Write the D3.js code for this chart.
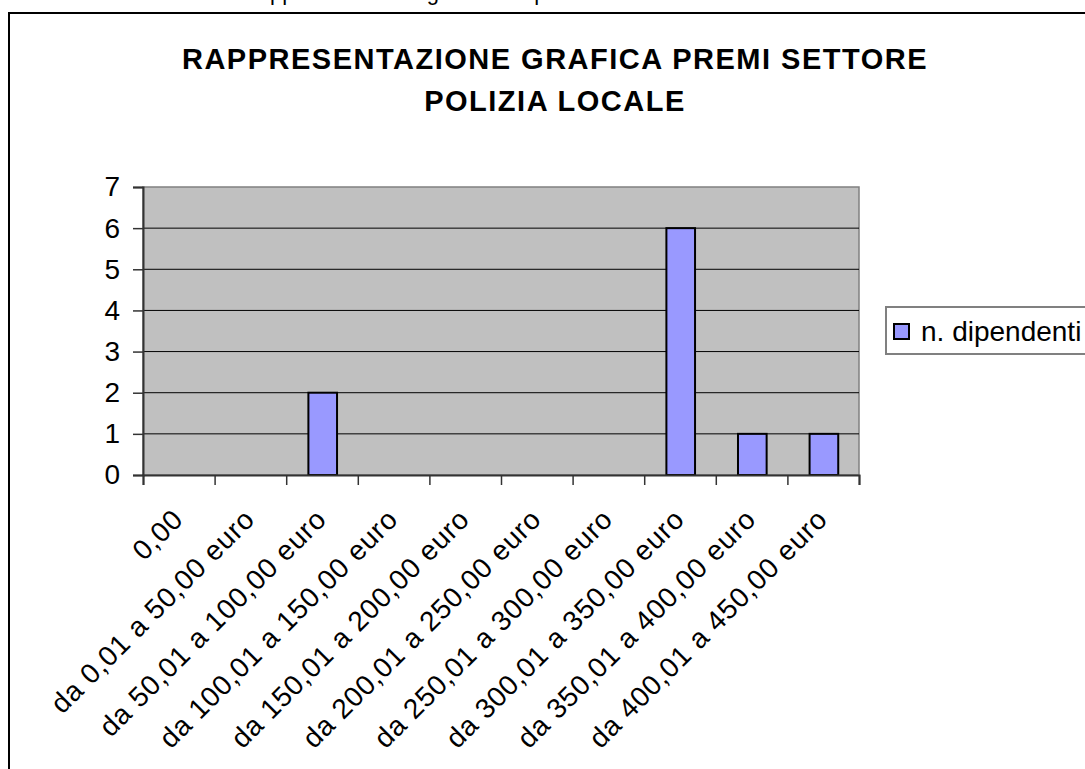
<!DOCTYPE html>
<html>
<head>
<meta charset="utf-8">
<script src="https://cdn.jsdelivr.net/npm/d3@7"></script>
<style>
  body { margin: 0; background: #fff; }
  svg { display: block; font-family: Arial, "Liberation Sans", sans-serif; }
</style>
</head>
<body>
<div id="chart"></div>
<script>
var categories = ["0,00", "da 0,01 a 50,00 euro", "da 50,01 a 100,00 euro", "da 100,01 a 150,00 euro",
  "da 150,01 a 200,00 euro", "da 200,01 a 250,00 euro", "da 250,01 a 300,00 euro",
  "da 300,01 a 350,00 euro", "da 350,01 a 400,00 euro", "da 400,01 a 450,00 euro"];
var dipendenti = [0, 0, 2, 0, 0, 0, 0, 6, 1, 1];
var yTicks = [0, 1, 2, 3, 4, 5, 6, 7];
var seriesName = "n. dipendenti";
var titleLines = ["RAPPRESENTAZIONE GRAFICA PREMI SETTORE", "POLIZIA LOCALE"];

var w = 1085, h = 769;
var plot = {left: 143, right: 859, top: 187, bottom: 475};

var svg = d3.select("#chart").append("svg")
  .attr("width", w)
  .attr("height", h);

// line of the document above the chart, only its descenders are in view
svg.append("text")
  .attr("x", 242).attr("y", 0)
  .style("font-size", "22px")
  .text("Rappresentazione grafica dei premi");

// chart frame (runs past the right and bottom edges)
svg.append("rect")
  .attr("x", 9).attr("y", 13)
  .attr("width", 1100).attr("height", 800)
  .attr("fill", "#fff")
  .attr("stroke", "#000")
  .attr("stroke-width", 2);

// title
svg.append("g").selectAll("text")
  .data(titleLines)
  .enter().append("text")
  .attr("x", 555)
  .attr("y", function(d, i) { return 69 + i * 42; })
  .attr("text-anchor", "middle")
  .style("font-size", "29px")
  .style("font-weight", "bold")
  .style("letter-spacing", "1.5px")
  .text(function(d) { return d; });

var x = d3.scaleBand()
  .domain(categories)
  .range([plot.left, plot.right]);

var y = d3.scaleLinear()
  .domain([0, 7])
  .range([plot.bottom, plot.top]);

// plot background
svg.append("rect")
  .attr("x", plot.left).attr("y", plot.top)
  .attr("width", plot.right - plot.left)
  .attr("height", plot.bottom - plot.top)
  .attr("fill", "#c0c0c0")
  .attr("stroke", "#808080")
  .attr("stroke-width", 1.5);

// gridlines
svg.append("g").selectAll("line")
  .data(yTicks.filter(function(d) { return d > 0 && d < 7; }))
  .enter().append("line")
  .attr("x1", plot.left).attr("x2", plot.right)
  .attr("y1", function(d) { return y(d); })
  .attr("y2", function(d) { return y(d); })
  .attr("stroke", "#000")
  .attr("stroke-width", 1);

// bars
var bw = x.bandwidth();
var barData = categories.map(function(c, i) { return {cat: c, v: dipendenti[i]}; });
svg.append("g").selectAll("rect")
  .data(barData.filter(function(d) { return d.v > 0; }))
  .enter().append("rect")
  .attr("x", function(d) { return x(d.cat) + bw * 0.31; })
  .attr("width", bw * 0.4)
  .attr("y", function(d) { return y(d.v); })
  .attr("height", function(d) { return y(0) - y(d.v); })
  .attr("fill", "#9999ff")
  .attr("stroke", "#000")
  .attr("stroke-width", 2);

// y axis
var yAxis = svg.append("g")
  .attr("transform", "translate(" + plot.left + ",0)")
  .call(d3.axisLeft(y).tickValues(yTicks).tickSize(10).tickPadding(13).tickFormat(d3.format("d")));
yAxis.select(".domain").attr("stroke", "#333").attr("stroke-width", 2);
yAxis.selectAll(".tick line").attr("stroke", "#333").attr("stroke-width", 1.5);
yAxis.selectAll("text").style("font-size", "28px").attr("fill", "#000").attr("font-family", null);

// x axis: ticks on the band boundaries
var xb = d3.scaleLinear().domain([0, categories.length]).range([plot.left, plot.right]);
var xAxis = svg.append("g")
  .attr("transform", "translate(0," + plot.bottom + ")")
  .call(d3.axisBottom(xb).ticks(categories.length).tickSize(10).tickFormat(""));
xAxis.select(".domain").attr("stroke", "#333").attr("stroke-width", 2);
xAxis.selectAll(".tick line").attr("stroke", "#333").attr("stroke-width", 1.5);

// rotated category labels
svg.append("g").selectAll("text")
  .data(categories)
  .enter().append("text")
  .attr("transform", function(d) {
    return "translate(" + (x(d) + bw / 2 + 6) + "," + (plot.bottom + 46) + ") rotate(-45)";
  })
  .attr("text-anchor", "end")
  .style("font-size", "28px")
  .style("letter-spacing", "0.8px")
  .text(function(d) { return d; });

// legend
var legend = svg.append("g");
legend.append("rect")
  .attr("x", 886).attr("y", 307)
  .attr("width", 220).attr("height", 47)
  .attr("fill", "#fff")
  .attr("stroke", "#808080")
  .attr("stroke-width", 2);
legend.append("rect")
  .attr("x", 894).attr("y", 324)
  .attr("width", 15).attr("height", 15)
  .attr("fill", "#9999ff")
  .attr("stroke", "#000")
  .attr("stroke-width", 2);
legend.append("text")
  .attr("x", 921).attr("y", 341)
  .style("font-size", "28px")
  .text(seriesName);
</script>
</body>
</html>
